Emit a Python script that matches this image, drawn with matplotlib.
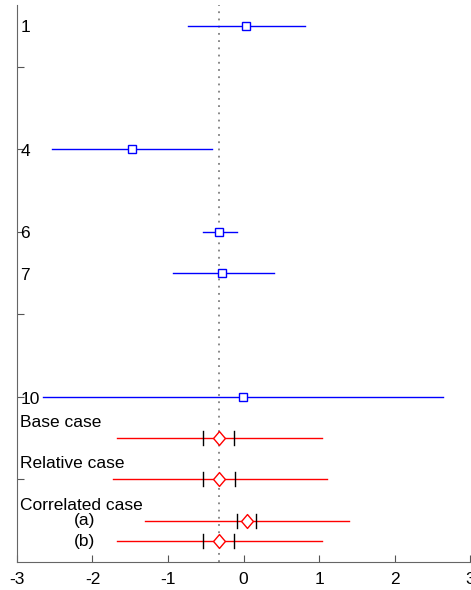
import matplotlib
matplotlib.use("Agg")
from matplotlib import pyplot as plt
from matplotlib.path import Path

plt.rcParams['font.family'] = ['Liberation Sans', 'DejaVu Sans']

# individual studies
rows = [1, 4, 6, 7, 10]
est = [0.03, -1.48, -0.32, -0.28, -0.01]
lo = [-0.74, -2.53, -0.53, -0.94, -2.65]
hi = [0.81, -0.42, -0.08, 0.41, 2.64]

# pooled cases
case_rows = [11, 12, 13, 13.5]
case_est = [-0.33, -0.33, 0.04, -0.33]
case_lo = [-1.67, -1.73, -1.31, -1.67]
case_hi = [1.04, 1.10, 1.40, 1.04]
case_in_lo = [-0.53, -0.53, -0.09, -0.53]
case_in_hi = [-0.12, -0.11, 0.17, -0.12]

case_labels = ["Base case", "Relative case", "Correlated case"]
case_label_y = [10.62, 11.62, 12.62]
sub_labels = ["(a)", "(b)"]
ref_x = -0.33

diamond = Path([(0, 1), (0.85, 0), (0, -1), (-0.85, 0), (0, 1)],
               [Path.MOVETO, Path.LINETO, Path.LINETO, Path.LINETO, Path.CLOSEPOLY])

fig = plt.figure(figsize=(4.71, 5.90), dpi=100)
ax = fig.add_axes([0.036, 0.0475, 0.962, 0.944])

ax.axvline(ref_x, color="gray", linestyle=(0, (1, 3)), linewidth=1.3, zorder=1)

for r, e, a, b in zip(rows, est, lo, hi):
    ax.plot([a, b], [r, r], color="blue", linewidth=1)
    ax.plot(e, r, "s", mfc="white", mec="blue", markersize=6, mew=1)
    ax.text(-2.955, r + 0.05, str(r), ha="left", va="center", fontsize=12.5)

for r, e, a, b, c, d in zip(case_rows, case_est, case_lo, case_hi, case_in_lo, case_in_hi):
    ax.plot([a, b], [r, r], color="red", linewidth=1)
    ax.plot([c, c], [r - 0.17, r + 0.17], color="black", linewidth=1)
    ax.plot([d, d], [r - 0.17, r + 0.17], color="black", linewidth=1)
    ax.plot(e, r, marker=diamond, mfc="white", mec="red", markersize=10, mew=1)

for t, y in zip(case_labels, case_label_y):
    ax.text(-2.955, y, t, ha="left", va="center", fontsize=12.5)
for t, y in zip(sub_labels, case_rows[2:]):
    ax.text(-2.1, y, t, ha="center", va="center", fontsize=12.5)

ax.set_xlim(-3, 3)
ax.set_ylim(14, 0.5)
ax.set_xticks([-3, -2, -1, 0, 1, 2, 3])
ax.set_xticklabels(["-3", "-2", "-1", "0", "1", "2", "3"], fontsize=12.5)
ax.set_yticks([2, 4, 6, 8, 10, 12])
ax.set_yticklabels([])
ax.tick_params(direction="in", length=5, color="#555555")
ax.tick_params(axis="x", pad=7)
ax.spines["top"].set_visible(False)
ax.spines["right"].set_visible(False)
ax.spines["left"].set_color("#666666")
ax.spines["bottom"].set_color("#666666")

fig.savefig("out.png", dpi=100)
